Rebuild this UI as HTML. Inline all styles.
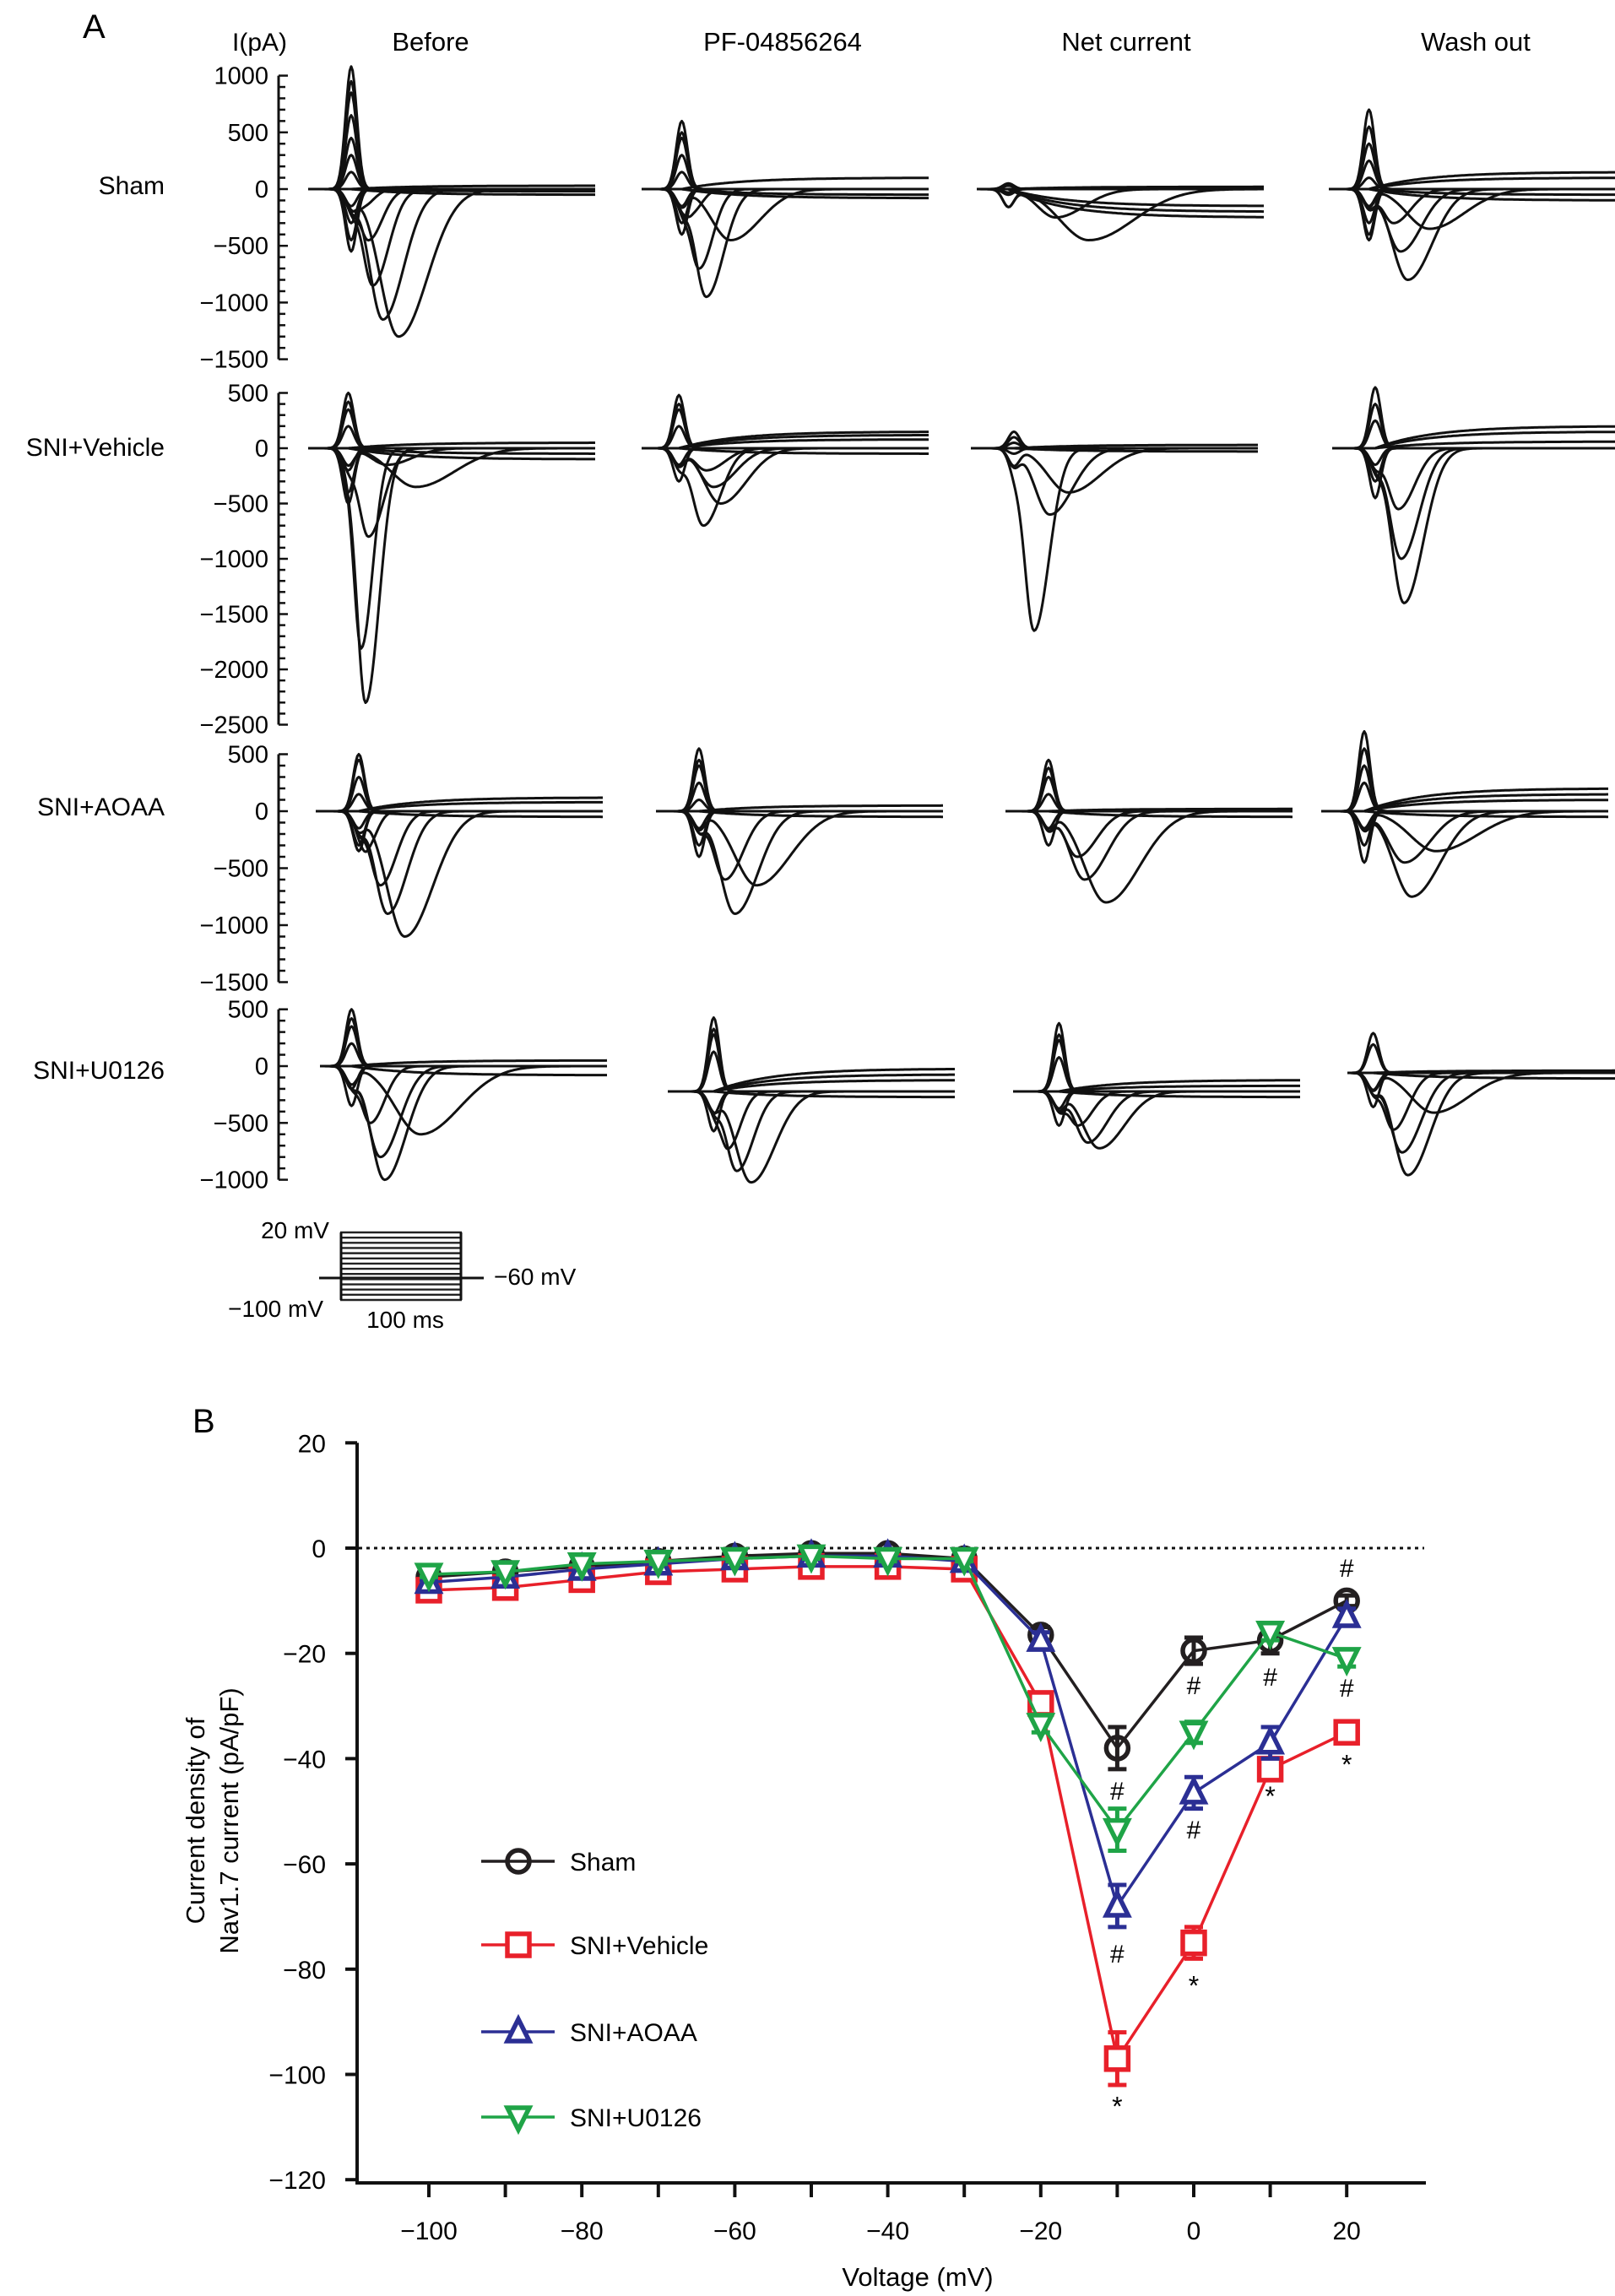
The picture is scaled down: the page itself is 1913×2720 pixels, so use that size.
<!DOCTYPE html>
<html><head><meta charset="utf-8"><style>
html,body{margin:0;padding:0;background:#fff;}
svg{display:block;font-family:"Liberation Sans",sans-serif;}
</style></head><body>
<svg id="fig" width="1913" height="2720" viewBox="0 0 1913 2720" xmlns="http://www.w3.org/2000/svg">
<g id="panelA"></g>
<g id="panelB"></g>
</svg>
<script>
// ---------- Panel B data ----------
const voltages = [-100,-90,-80,-70,-60,-50,-40,-30,-20,-10,0,10,20];
const shamVals = [-5.5,-4.5,-3.5,-2.5,-1.5,-1,-1,-2,-16.5,-38,-19.5,-17.5,-10];
const shamErr  = [0.5,0.5,0.5,0.5,0.5,0.5,0.5,0.5,1.5,4,2.5,2.5,1];
const vehVals  = [-8,-7.5,-6,-4.5,-4,-3.5,-3.5,-4,-29.5,-97,-75,-42,-35];
const vehErr   = [0.5,0.5,0.5,0.5,0.5,0.5,0.5,0.5,1.5,5,3,1.5,1.5];
const aoaaVals = [-6.5,-5.5,-4,-3,-2,-1.5,-1.5,-2.5,-17.5,-68,-46.5,-37,-13];
const aoaaErr  = [0.5,0.5,0.5,0.5,0.5,0.5,0.5,0.5,1.5,4,3,3,1.5];
const u0Vals   = [-5,-4.5,-3,-2.5,-2,-1.5,-2,-2,-33.5,-53.5,-35,-16,-21];
const u0Err    = [0.5,0.5,0.5,0.5,0.5,0.5,0.5,0.5,1.5,4,2,1.5,1.5];
const yTicks = [20,0,-20,-40,-60,-80,-100,-120];
const xTicks = [-100,-80,-60,-40,-20,0,20];
const annX = [-10,0,10,20,20,-10,0,-10,0,10,20];
const annY = [-46,-26,-24.4,-3.7,-26.5,-77,-53.4,-105,-82,-46,-40];
const annT = ['#','#','#','#','#','#','#','*','*','*','*'];

// ---------- Panel A data (pA, ms) ----------
const rowNames = ['Sham','SNI+Vehicle','SNI+AOAA','SNI+U0126'];
const colNames = ['Before','PF-04856264','Net current','Wash out'];
const axisTop = [1000,500,500,500];
const axisBottom = [-1500,-2500,-1500,-1000];
const capAmps = [
 [[1080,950,850,650,450,300,150,-150,-300,-450,-550],[600,500,450,300,150,-150,-300,-400],[50,30,-30,-50],[700,550,400,250,100,-150,-300,-400,-450]],
 [[500,420,350,200,-200,-400,-500],[480,400,350,200,-150,-300],[150,100,50,-50],[550,400,250,-150,-300,-450]],
 [[500,450,300,150,-150,-300,-350],[550,450,400,250,100,-150,-300,-400],[450,380,300,150,-150,-300],[700,550,400,250,-150,-300,-450]],
 [[500,420,350,200,-200,-350],[650,550,500,350,-200,-350],[600,500,450,300,-150,-300],[350,250,-150,-300]]
];
const naAmps = [
 [[-150,-450,-850,-1150,-1300],[-200,-700,-950,-450],[-250,-450],[-300,-550,-800,-350]],
 [[-150,-350,-800,-1800,-2300],[-200,-350,-500,-700],[-1650,-600,-400],[-550,-1000,-1400]],
 [[-300,-650,-900,-1100],[-600,-900,-650],[-400,-600,-800],[-450,-750,-350]],
 [[-500,-800,-1000,-600],[-500,-700,-800],[-300,-450,-500],[-500,-700,-900,-350]]
];
const naTimes = [
 [[38,42,45,52,63],[35,40,45,62],[55,78],[45,50,55,70]],
 [[55,75,42,37,40],[45,50,55,43],[44,55,68],[46,48,50]],
 [[36,45,50,62],[48,55,70],[50,55,70],[58,63,80]],
 [[35,42,45,70],[42,48,58],[45,52,60],[32,38,42,60]]
];
const tailAmps = [
 [[30,-20,-50],[100,-50,-80],[-150,-200,-250,20],[150,100,-50,-100]],
 [[50,-50,-100],[150,120,80,-50],[30,-30],[200,150,60]],
 [[120,80,-50],[50,-50],[-50,20],[200,150,100,-50]],
 [[50,-80],[200,150,100,-50],[100,50,-50],[-50,20]]
];
const capTimes = [[30,28,22,28],[28,26,30,30],[30,30,30,30],[22,32,32,18]];
</script>
<script>
const NS='http://www.w3.org/2000/svg';
function mk(tag,attrs,parent,text){const e=document.createElementNS(NS,tag);for(const k in attrs)e.setAttribute(k,attrs[k]);if(text!==undefined)e.textContent=text;parent.appendChild(e);return e;}
const A=document.getElementById('panelA');
const B=document.getElementById('panelB');

// ===== Panel A =====
let t=mk('text',{x:98,y:45,'font-size':40},A,'A');


t=mk('text',{x:275,y:60,'font-size':30},A,'I(pA)');


const colCx=[510,927,1334,1748];
colNames.forEach((n,i)=>{const e=mk('text',{x:colCx[i],y:60,'font-size':31,'text-anchor':'middle'},A,n);

});
const rowZero=[224,531,961,1263];
const rowScale=[0.1344,0.131,0.135,0.1346];
const rowLabelY=[230,540,966,1278];
const colX0=[[365,760,1157,1574],[365,760,1150,1578],[374,777,1191,1565],[379,791,1200,1596]];
const colBaseOff=[[0,0,0,0],[0,0,0,0],[0,0,0,0],[0,30,30,8]];
const axX=330;
rowNames.forEach((rn,r)=>{
  const e=mk('text',{x:195,y:rowLabelY[r],'font-size':30,'text-anchor':'end'},A,rn);
  
  
  const yv=v=>rowZero[r]-v*rowScale[r];
  const ax=mk('g',{},A);
  
  
  mk('line',{x1:axX,x2:axX,y1:yv(axisTop[r]),y2:yv(axisBottom[r]),stroke:'#111','stroke-width':3},ax);
  for(let v=axisTop[r];v>=axisBottom[r];v-=100){
    const major=v%500===0;
    mk('line',{x1:axX,x2:axX+(major?11:8),y1:yv(v),y2:yv(v),stroke:'#111','stroke-width':2.5},ax);
    if(major){const l=mk('text',{x:318,y:yv(v)+10,'font-size':29,'text-anchor':'end'},ax,v<0?'\u2212'+(-v):String(v));
      
      }
  }
  for(let c=0;c<4;c++){
    const g=mk('g',{fill:'none',stroke:'#111','stroke-width':3,'stroke-linejoin':'round'},A);
    
    
    const x0=colX0[r][c], base=rowZero[r]+colBaseOff[r][c], pxms=1.7, tc=capTimes[r][c];
    const draw=f=>{let d='';for(let tm=0;tm<=200;tm+=1){const y=base-f(tm)*rowScale[r];d+=(tm?'L':'M')+(x0+tm*pxms).toFixed(1)+' '+y.toFixed(1);}
      const p=mk('path',{d:d},g);
      
      };
    capAmps[r][c].forEach(a=>draw(tm=>a*Math.exp(-Math.pow((tm-tc)/5.5,2))));
    naAmps[r][c].forEach((a,k)=>{const T=naTimes[r][c][k];const w1=(T-tc)*0.45+3, w2=(T-tc)*0.7+5;
      draw(tm=>{let v=(tm<T)?a*Math.exp(-Math.pow((tm-T)/w1,2)):a*Math.exp(-Math.pow((tm-T)/w2,2));
        v+=-150*Math.exp(-Math.pow((tm-tc)/5.5,2));return v;});});
    tailAmps[r][c].forEach(a=>draw(tm=>tm<tc?0:a*(1-Math.exp(-(tm-tc)/40))));
  }
});
// stimulus protocol
const st=mk('g',{},A);


mk('line',{x1:378,x2:573,y1:1514,y2:1514,stroke:'#111','stroke-width':3},st);
for(let i=0;i<=13;i++){const y=1460+i*80/13;mk('line',{x1:403,x2:547,y1:y,y2:y,stroke:'#222','stroke-width':2.4},st);}
mk('line',{x1:404,x2:404,y1:1460,y2:1540,stroke:'#111','stroke-width':3},st);
mk('line',{x1:546,x2:546,y1:1460,y2:1540,stroke:'#111','stroke-width':3},st);
[['20 mV',390,1467,'end'],['\u2212100 mV',383,1560,'end'],['\u221260 mV',585,1522,'start'],['100 ms',480,1573,'middle']].forEach(a=>{
  const e=mk('text',{x:a[1],y:a[2],'font-size':28,'text-anchor':a[3]},st,a[0]);
  
  });

// ===== Panel B =====
const xB=v=>508+(v+100)*9.06;
const yB=v=>1834-v*6.235;
t=mk('text',{x:228,y:1697,'font-size':40},B,'B');


mk('line',{x1:423,x2:423,y1:yB(20),y2:2588,stroke:'#111','stroke-width':4},B);
mk('line',{x1:421,x2:1689,y1:2586,y2:2586,stroke:'#111','stroke-width':4},B);
mk('line',{x1:425,x2:1687,y1:yB(0),y2:yB(0),stroke:'#111','stroke-width':3,'stroke-dasharray':'4 5'},B);
yTicks.forEach(v=>{mk('line',{x1:409,x2:423,y1:yB(v),y2:yB(v),stroke:'#111','stroke-width':4},B);
  const e=mk('text',{x:386,y:yB(v)+11,'font-size':30,'text-anchor':'end'},B,v<0?'\u2212'+(-v):String(v));
  
  });
voltages.forEach(v=>{mk('line',{x1:xB(v),x2:xB(v),y1:2586,y2:2603,stroke:'#111','stroke-width':4},B);});
xTicks.forEach(v=>{const e=mk('text',{x:xB(v),y:2653,'font-size':30,'text-anchor':'middle'},B,v<0?'\u2212'+(-v):String(v));
  
  });
t=mk('text',{x:1087,y:2708,'font-size':31,'text-anchor':'middle'},B,'Voltage (mV)');


t=mk('text',{x:0,y:0,'font-size':31,'text-anchor':'middle',transform:'translate(242,2157) rotate(-90)'},B,'Current density of');


t=mk('text',{x:0,y:0,'font-size':31,'text-anchor':'middle',transform:'translate(282,2157) rotate(-90)'},B,'Nav1.7 current (pA/pF)');



function marker(g,type,cx,cy,col){
  const s=13;
  if(type==='circle') mk('circle',{cx:cx,cy:cy,r:s,fill:'none',stroke:col,'stroke-width':5.5},g);
  else if(type==='square') mk('rect',{x:cx-s,y:cy-s,width:2*s,height:2*s,fill:'#fff',stroke:col,'stroke-width':5.5},g);
  else if(type==='up') mk('polygon',{points:`${cx},${cy-s-2} ${cx-s},${cy+s-2} ${cx+s},${cy+s-2}`,fill:'#fff',stroke:col,'stroke-width':5.5},g);
  else mk('polygon',{points:`${cx},${cy+s+2} ${cx-s},${cy-s+2} ${cx+s},${cy-s+2}`,fill:'#fff',stroke:col,'stroke-width':5.5},g);
}
const series=[
 {name:'sham',vals:shamVals,err:shamErr,col:'#231f20',m:'circle'},
 {name:'sni-vehicle',vals:vehVals,err:vehErr,col:'#e8202a',m:'square'},
 {name:'sni-aoaa',vals:aoaaVals,err:aoaaErr,col:'#2b2f94',m:'up'},
 {name:'sni-u0126',vals:u0Vals,err:u0Err,col:'#1fa447',m:'down'}
];
series.forEach(s=>{
  const g=mk('g',{},B);
  
  
  const pts=voltages.map((v,i)=>xB(v)+','+yB(s.vals[i])).join(' ');
  mk('polyline',{points:pts,fill:'none',stroke:s.col,'stroke-width':3.5},g);
  voltages.forEach((v,i)=>{
    const x=xB(v),y1=yB(s.vals[i]+s.err[i]),y2=yB(s.vals[i]-s.err[i]);
    mk('line',{x1:x,x2:x,y1:y1,y2:y2,stroke:s.col,'stroke-width':5},g);
    mk('line',{x1:x-11,x2:x+11,y1:y1,y2:y1,stroke:s.col,'stroke-width':5},g);
    mk('line',{x1:x-11,x2:x+11,y1:y2,y2:y2,stroke:s.col,'stroke-width':5},g);
  });
  voltages.forEach((v,i)=>{
    const gm=mk('g',{},g);
    
    
    marker(gm,s.m,xB(v),yB(s.vals[i]),s.col);});
});
annX.forEach((v,i)=>{const e=mk('text',{x:xB(v),y:yB(annY[i])+(annT[i]==='*'?18:11),'font-size':annT[i]==='*'?32:30,'text-anchor':'middle'},B,annT[i]);
  
  });
// legend
const legY=[2205,2304,2407,2508];
const legT=['Sham','SNI+Vehicle','SNI+AOAA','SNI+U0126'];
series.forEach((s,i)=>{
  const g=mk('g',{},B);
  
  
  mk('line',{x1:570,x2:657,y1:legY[i],y2:legY[i],stroke:s.col,'stroke-width':3.5},g);
  marker(g,s.m,614,legY[i],s.col);
  mk('text',{x:675,y:legY[i]+11,'font-size':30},g,legT[i]);
});
</script>
</body></html>
